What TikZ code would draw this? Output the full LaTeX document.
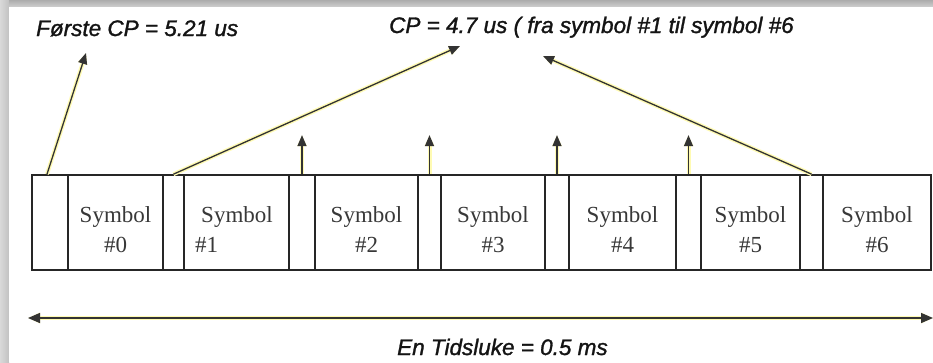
\documentclass[tikz,border=0pt]{standalone}
\usepackage{fontspec}
\setmainfont{Liberation Serif}
\newfontfamily\labelfont[FakeBold=1.3]{Liberation Sans}
\usetikzlibrary{arrows.meta,calc}

\begin{document}
\begin{tikzpicture}[x=1pt,y=-1pt,
  cell/.style={draw=black!85, line width=1.7pt, rectangle, inner sep=0pt,
    minimum height=95pt, anchor=center},
  sym/.style={text=black!78, font=\fontsize{23}{30}\selectfont, align=center, inner sep=0pt},
  note/.style={font=\labelfont\itshape\fontsize{22.5}{27}\selectfont, text=black!92, inner sep=0pt},
  glow/.style={preaction={draw=yellow!30, line width=4pt}},
  pointer/.style={draw=black!80, line width=1.3pt, -{Triangle[length=11pt,width=9pt]}, glow},
  span/.style={draw=black!80, line width=1.3pt,
    {Triangle[length=12pt,width=10pt]}-{Triangle[length=12pt,width=10pt]}, glow},
]
% page with a soft grey frame on the top and left
\useasboundingbox (0,0) rectangle (933,362);
\shade[top color=gray!65, bottom color=gray!38] (0,0) rectangle (933,7);
\shade[left color=gray!30, right color=gray!48] (0,0) rectangle (9,362);
\fill[white] (9,7) rectangle (933,362);

% the slot: cyclic prefixes (cp) and symbols (s)
\foreach \n/\a/\b in {cp0/32/68, s0/68/163, cp1/163/184, s1/184/289, cp2/289/315,
    s2/315/418, cp3/418/441, s3/441/545, cp4/545/569, s4/569/676, cp5/676/701,
    s5/701/800, cp6/800/823, s6/823/931}
  \node[cell, minimum width={\b-\a}] (\n) at ({(\a+\b)/2},222.5) {};

\foreach \k in {0,2,3,4,5,6}
  \node[sym] (t\k) at ($(s\k.center)+(0,7.5)$) {Symbol\\\#\k};
\node[sym, align=left] (t1) at ($(s1.center)+(-2.5,7.5)$) {\hspace*{6pt}Symbol\\\#1};

% labels
\node[note, anchor=base west] (first) at (36,36) {Første CP = 5.21 us};
\node[note, anchor=base west] (rest) at (389,33) {CP = 4.7 us ( fra symbol \#1 til symbol \#6};
\node[note, anchor=base west] (slot) at (397,355) {En Tidsluke = 0.5 ms};

% pointers to the labels
\coordinate (tipA) at (86,53);
\coordinate (tipB) at (460,46);
\coordinate (tipC) at (543,56);
\draw[pointer] ($(cp0.north)+(-3,0)$) -- (tipA);
\draw[pointer] (cp1.north) -- (tipB);
\draw[pointer] (cp6.north) -- (tipC);
\foreach \k in {2,3,4,5} {
  \coordinate (up\k) at ($(cp\k.north)+(0,-39)$);
  \draw[pointer] (cp\k.north) -- (up\k);
}

% slot duration
\coordinate (spanL) at (28,318);
\coordinate (spanR) at (933,318);
\draw[span] (spanL) -- (spanR);
\end{tikzpicture}
\end{document}
